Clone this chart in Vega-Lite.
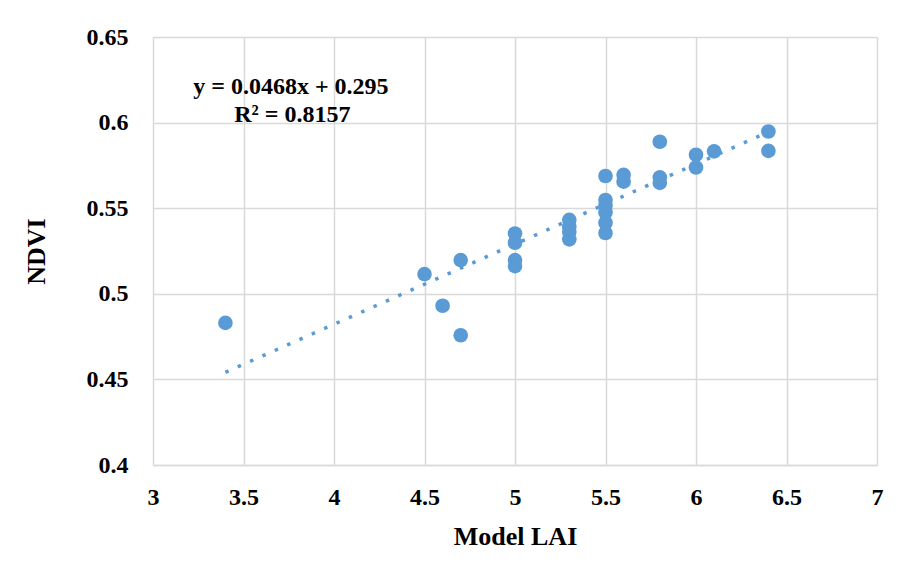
{
  "$schema": "https://vega.github.io/schema/vega-lite/v6.json",
  "width": 724,
  "height": 428,
  "autosize": {"type": "none"},
  "padding": {"left": 153, "top": 37, "right": 30, "bottom": 116},
  "background": "white",
  "config": {
    "view": {"stroke": null},
    "font": "Liberation Serif"
  },
  "datasets": {
    "pts": [
      {"lai": 3.4, "ndvi": 0.483},
      {"lai": 4.5, "ndvi": 0.5115},
      {"lai": 4.6, "ndvi": 0.493},
      {"lai": 4.7, "ndvi": 0.5197},
      {"lai": 4.7, "ndvi": 0.4758},
      {"lai": 5.0, "ndvi": 0.5352},
      {"lai": 5.0, "ndvi": 0.5298},
      {"lai": 5.0, "ndvi": 0.5197},
      {"lai": 5.0, "ndvi": 0.5162},
      {"lai": 5.3, "ndvi": 0.5432},
      {"lai": 5.3, "ndvi": 0.5392},
      {"lai": 5.3, "ndvi": 0.5362},
      {"lai": 5.3, "ndvi": 0.5318},
      {"lai": 5.5, "ndvi": 0.5688},
      {"lai": 5.5, "ndvi": 0.5548},
      {"lai": 5.5, "ndvi": 0.5515},
      {"lai": 5.5, "ndvi": 0.5475},
      {"lai": 5.5, "ndvi": 0.5415},
      {"lai": 5.5, "ndvi": 0.5355},
      {"lai": 5.6, "ndvi": 0.5695},
      {"lai": 5.6, "ndvi": 0.5655},
      {"lai": 5.8, "ndvi": 0.5888},
      {"lai": 5.8, "ndvi": 0.568},
      {"lai": 5.8, "ndvi": 0.5648},
      {"lai": 6.0, "ndvi": 0.5812},
      {"lai": 6.0, "ndvi": 0.5738},
      {"lai": 6.1, "ndvi": 0.5832},
      {"lai": 6.4, "ndvi": 0.5948},
      {"lai": 6.4, "ndvi": 0.5835}
    ],
    "trend": [
      {"lai": 3.4, "ndvi": 0.45412},
      {"lai": 6.4, "ndvi": 0.59452}
    ],
    "labels": [
      {"lai": 3.762, "ndvi": 0.6208, "t": "y = 0.0468x + 0.295"},
      {"lai": 3.77, "ndvi": 0.6044, "t": "R² = 0.8157"}
    ]
  },
  "layer": [
    {
      "data": {"name": "pts"},
      "mark": {"type": "point", "filled": true, "size": 215, "opacity": 1, "color": "#5B9BD5"},
      "encoding": {
        "x": {
          "field": "lai", "type": "quantitative",
          "scale": {"domain": [3, 7], "nice": false, "zero": false},
          "axis": {
            "title": "Model LAI",
            "values": [3, 3.5, 4, 4.5, 5, 5.5, 6, 6.5, 7],
            "format": "~g",
            "grid": true, "gridColor": "#D9D9D9", "gridWidth": 1.5,
            "domain": true, "domainColor": "#D9D9D9", "domainWidth": 1.5,
            "ticks": false,
            "labelFont": "Liberation Serif", "labelFontWeight": "bold", "labelFontSize": 24, "labelColor": "#000000",
            "labelPadding": 20, "labelFlush": false,
            "titleFont": "Liberation Serif", "titleFontWeight": "bold", "titleFontSize": 26, "titleColor": "#000000",
            "titlePadding": 14
          }
        },
        "y": {
          "field": "ndvi", "type": "quantitative",
          "scale": {"domain": [0.4, 0.65], "nice": false, "zero": false},
          "axis": {
            "title": "NDVI",
            "values": [0.4, 0.45, 0.5, 0.55, 0.6, 0.65],
            "format": "~g",
            "grid": true, "gridColor": "#D9D9D9", "gridWidth": 1.5,
            "domain": false, "ticks": false,
            "labelFont": "Liberation Serif", "labelFontWeight": "bold", "labelFontSize": 24, "labelColor": "#000000",
            "labelPadding": 25, "labelFlush": false,
            "titleFont": "Liberation Serif", "titleFontWeight": "bold", "titleFontSize": 26, "titleColor": "#000000",
            "titlePadding": 37
          }
        }
      }
    },
    {
      "data": {"name": "trend"},
      "mark": {"type": "line", "color": "#5B9BD5", "strokeWidth": 3.5, "strokeDash": [3.5, 10]},
      "encoding": {
        "x": {"field": "lai", "type": "quantitative"},
        "y": {"field": "ndvi", "type": "quantitative"}
      }
    },
    {
      "data": {"name": "labels"},
      "mark": {"type": "text", "font": "Liberation Serif", "fontWeight": "bold", "fontSize": 24, "color": "#000000", "align": "center", "baseline": "middle"},
      "encoding": {
        "x": {"field": "lai", "type": "quantitative"},
        "y": {"field": "ndvi", "type": "quantitative"},
        "text": {"field": "t"}
      }
    }
  ]
}
